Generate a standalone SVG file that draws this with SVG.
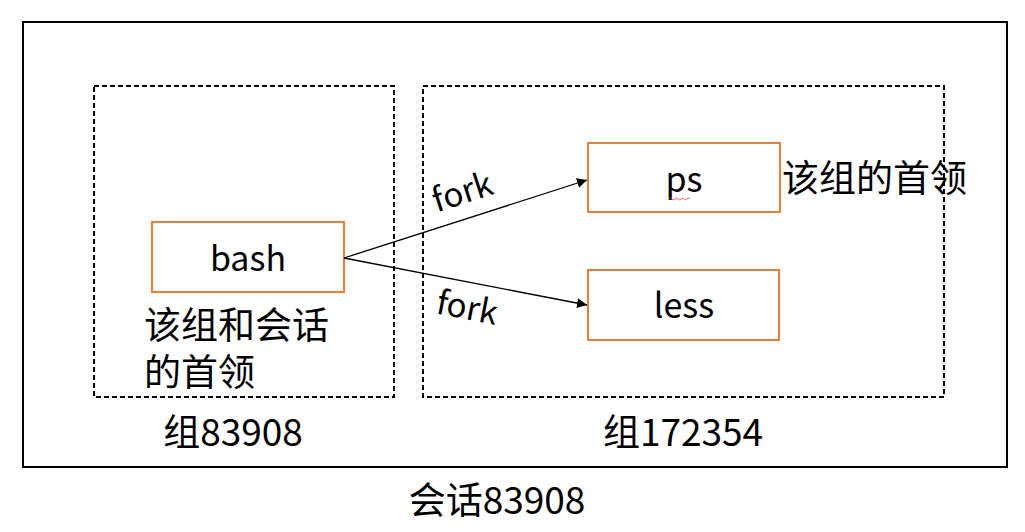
<svg xmlns="http://www.w3.org/2000/svg" width="1025" height="532" viewBox="0 0 1025 532">
<style>
text{font-family:"Noto Sans CJK SC","Liberation Sans",sans-serif;fill:#000}
.t{font-size:34px}
.c{font-size:37px}
.proc{fill:#fff;stroke:#ED7D31;stroke-width:2}
.grp{fill:none;stroke:#000;stroke-width:2;stroke-dasharray:5 3}
.edge{stroke:#000;stroke-width:1.3;fill:none}
</style>
<defs>
<marker id="arr" viewBox="0 0 10 10" refX="10" refY="5" markerWidth="10" markerHeight="10" markerUnits="userSpaceOnUse" orient="auto">
<path d="M0,0 L10,5 L0,10 z" fill="#000"/>
</marker>
</defs>
<rect width="1025" height="532" fill="#fff"/>
<g id="session">
<rect x="23" y="22" width="984" height="445" fill="none" stroke="#000" stroke-width="2"/>
<text class="c" x="497" y="514" text-anchor="middle">会话83908</text>
</g>
<g id="group83908">
<rect class="grp" x="94" y="86" width="300" height="311"/>
<text class="c" x="233" y="446" text-anchor="middle">组83908</text>
<text class="c" x="144" y="339">该组和会话</text>
<text class="c" x="144" y="386">的首领</text>
</g>
<g id="group172354">
<rect class="grp" x="423" y="86" width="521" height="311"/>
<text class="c" x="683" y="446" text-anchor="middle">组172354</text>
</g>
<g id="bash">
<rect class="proc" x="152" y="222" width="192" height="70"/>
<text class="t" x="248" y="271" text-anchor="middle">bash</text>
</g>
<g id="ps">
<rect class="proc" x="588" y="143" width="192" height="69"/>
<text class="t" x="684" y="192" text-anchor="middle">ps</text>
<path d="M669,199 q1.5,-2 3,0 t3,0 t3,0 t3,0 t3,0 t3,0 t3,0" fill="none" stroke="#e33" stroke-width="0.8"/>
<text class="c" x="782" y="192">该组的首领</text>
</g>
<g id="less">
<rect class="proc" x="588" y="270" width="191" height="70"/>
<text class="t" x="684" y="318" text-anchor="middle">less</text>
</g>
<g id="connectors">
<line class="edge" x1="344" y1="258" x2="587" y2="180" marker-end="url(#arr)"/>
<line class="edge" x1="344" y1="258" x2="587" y2="305" marker-end="url(#arr)"/>
<text font-size="33" x="0" y="0" text-anchor="middle" transform="translate(466,203) rotate(-18)">fork</text>
<text font-size="33" x="0" y="0" text-anchor="middle" transform="translate(465,319) rotate(11)">fork</text>
</g>
</svg>
